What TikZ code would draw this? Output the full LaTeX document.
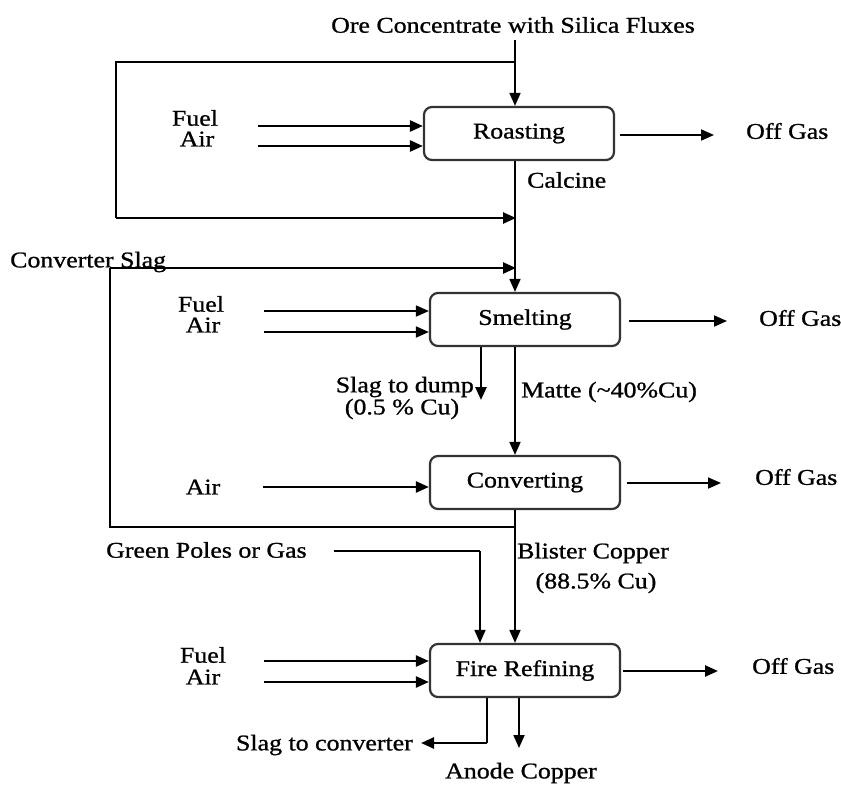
\documentclass[tikz,border=0pt]{standalone}
\usepackage{fontspec}
\setmainfont{Liberation Serif}[FakeBold=0.9]
\usepackage{graphicx}
\usetikzlibrary{arrows.meta,calc}
\newcommand\sx[1]{\scalebox{1.15}[1]{#1}}
\begin{document}
\begin{tikzpicture}[x=1pt,y=-1pt,
  lbl/.style={inner sep=0pt, font=\fontsize{22.5}{24}\selectfont},
  box/.style={draw=black!80, line width=2.2pt, rounded corners=8pt, minimum width=190pt, minimum height=53pt, inner sep=0pt, font=\fontsize{22.5}{24}\selectfont},
  ln/.style={line width=1.8pt},
  thk/.style={line width=2.5pt},
  arr/.style={-{Triangle[length=13pt,width=11pt]}}]
\useasboundingbox (0,0) rectangle (841,785);

% process boxes
\node[box] (roast) at (519,133.5) {\sx{Roasting}};
\node[box] (smelt) at (525,319.5) {\sx{Smelting}};
\node[box] (conv)  at (525,482.5) {\sx{Converting}};
\node[box] (fire)  at (525,670.5) {\sx{Fire Refining}};

% labels
\node[lbl] (ore) at (513,25) {\sx{Ore Concentrate with Silica Fluxes}};
\node[lbl] (fuel1) at (195,118) {\sx{Fuel}};
\node[lbl] (air1)  at (197,139) {\sx{Air}};
\node[lbl,anchor=west] (og1t) at (746,131) {\sx{Off Gas}};
\node[lbl,anchor=west] (calc) at (527,180) {\sx{Calcine}};
\node[lbl,anchor=west] (cslag) at (10,262) {\sx{Converter Slag}};
\node[lbl] (fuel2) at (201,304) {\sx{Fuel}};
\node[lbl] (air2)  at (203,325) {\sx{Air}};
\node[lbl,anchor=west] (og2t) at (759,318) {\sx{Off Gas}};
\node[lbl,anchor=east] (sdump) at (474,387) {\sx{Slag to dump}};
\node[lbl] (sdump2) at (402,409) {\sx{(0.5 \% Cu)}};
\node[lbl,anchor=west] (matte) at (521,392) {\sx{Matte (\textasciitilde40\%Cu)}};
\node[lbl] (air3)  at (203,487) {\sx{Air}};
\node[lbl,anchor=west] (og3t) at (755,477) {\sx{Off Gas}};
\node[lbl,anchor=west] (green) at (106,550) {\sx{Green Poles or Gas}};
\node[lbl,anchor=west] (blist) at (517,553) {\sx{Blister Copper}};
\node[lbl] (blist2) at (596,583) {\sx{(88.5\% Cu)}};
\node[lbl] (fuel4) at (203,655) {\sx{Fuel}};
\node[lbl] (air4)  at (203,677) {\sx{Air}};
\node[lbl,anchor=west] (og4t) at (752,666) {\sx{Off Gas}};
\node[lbl,anchor=east] (sconv) at (413,745) {\sx{Slag to converter}};
\node[lbl] (anode) at (521,773) {\sx{Anode Copper}};

% coordinates
\coordinate (colx) at (515,0);
\coordinate (feedtop) at (515,40);
\coordinate (lt) at (116,62);
\coordinate (lb) at (116,218);
\coordinate (lbend) at (516,218);
\coordinate (cst) at (110,268);
\coordinate (csb) at (110,527);
\coordinate (csend) at (516,268);
\coordinate (f1s) at (258,126);
\coordinate (a1s) at (258,146);
\coordinate (f2s) at (264,311);
\coordinate (a2s) at (264,332);
\coordinate (a3s) at (263,487);
\coordinate (f4s) at (264,661);
\coordinate (a4s) at (264,682);
\coordinate (og1) at (714,135);
\coordinate (og2) at (727,321);
\coordinate (og3) at (721,483);
\coordinate (og4) at (718,671);
\coordinate (sd) at (481,400);
\coordinate (gp) at (334,551);
\coordinate (gpc) at (480,551);
\coordinate (sc1) at (487,743);
\coordinate (sc2) at (421,743);
\coordinate (an) at (519,748);

% feed and roasting bypass loop
\draw[ln,arr] (feedtop) -- (roast.north -| colx);
\draw[thk] (lt -| colx) -- (lt) -- (lb);
\draw[thk,arr] (lb) -- (lbend);

% main vertical flow
\draw[ln,arr] (roast.south -| colx) -- (smelt.north -| colx);
\draw[ln,arr] (smelt.south -| colx) -- (conv.north -| colx);
\draw[ln,arr] (conv.south -| colx) -- (fire.north -| colx);

% converter slag loop
\draw[thk] (csb -| colx) -- (csb) -- (cst);
\draw[thk,arr] (cst) -- (csend);

% fuel / air inputs
\draw[thk,arr] (f1s) -- (roast.west |- f1s);
\draw[thk,arr] (a1s) -- (roast.west |- a1s);
\draw[ln,arr] (f2s) -- (smelt.west |- f2s);
\draw[ln,arr] (a2s) -- (smelt.west |- a2s);
\draw[thk,arr] (a3s) -- (conv.west |- a3s);
\draw[thk,arr] (f4s) -- (fire.west |- f4s);
\draw[thk,arr] (a4s) -- (fire.west |- a4s);

% off gas
\draw[ln,arr] ($(roast.east |- og1)+(5,0)$) -- (og1);
\draw[ln,arr] ($(smelt.east |- og2)+(8,0)$) -- (og2);
\draw[ln,arr] ($(conv.east |- og3)+(6,0)$) -- (og3);
\draw[thk,arr] ($(fire.east |- og4)+(2,0)$) -- (og4);

% other outlets
\draw[thk,arr] (smelt.south -| sd) -- (sd);
\draw[ln] (gp) -- (gpc);
\draw[ln,arr] (gpc) -- (fire.north -| gpc);
\draw[thk] (fire.south -| sc1) -- (sc1);
\draw[thk,arr] (sc1) -- (sc2);
\draw[ln,arr] (fire.south -| an) -- (an);
\end{tikzpicture}
\end{document}
